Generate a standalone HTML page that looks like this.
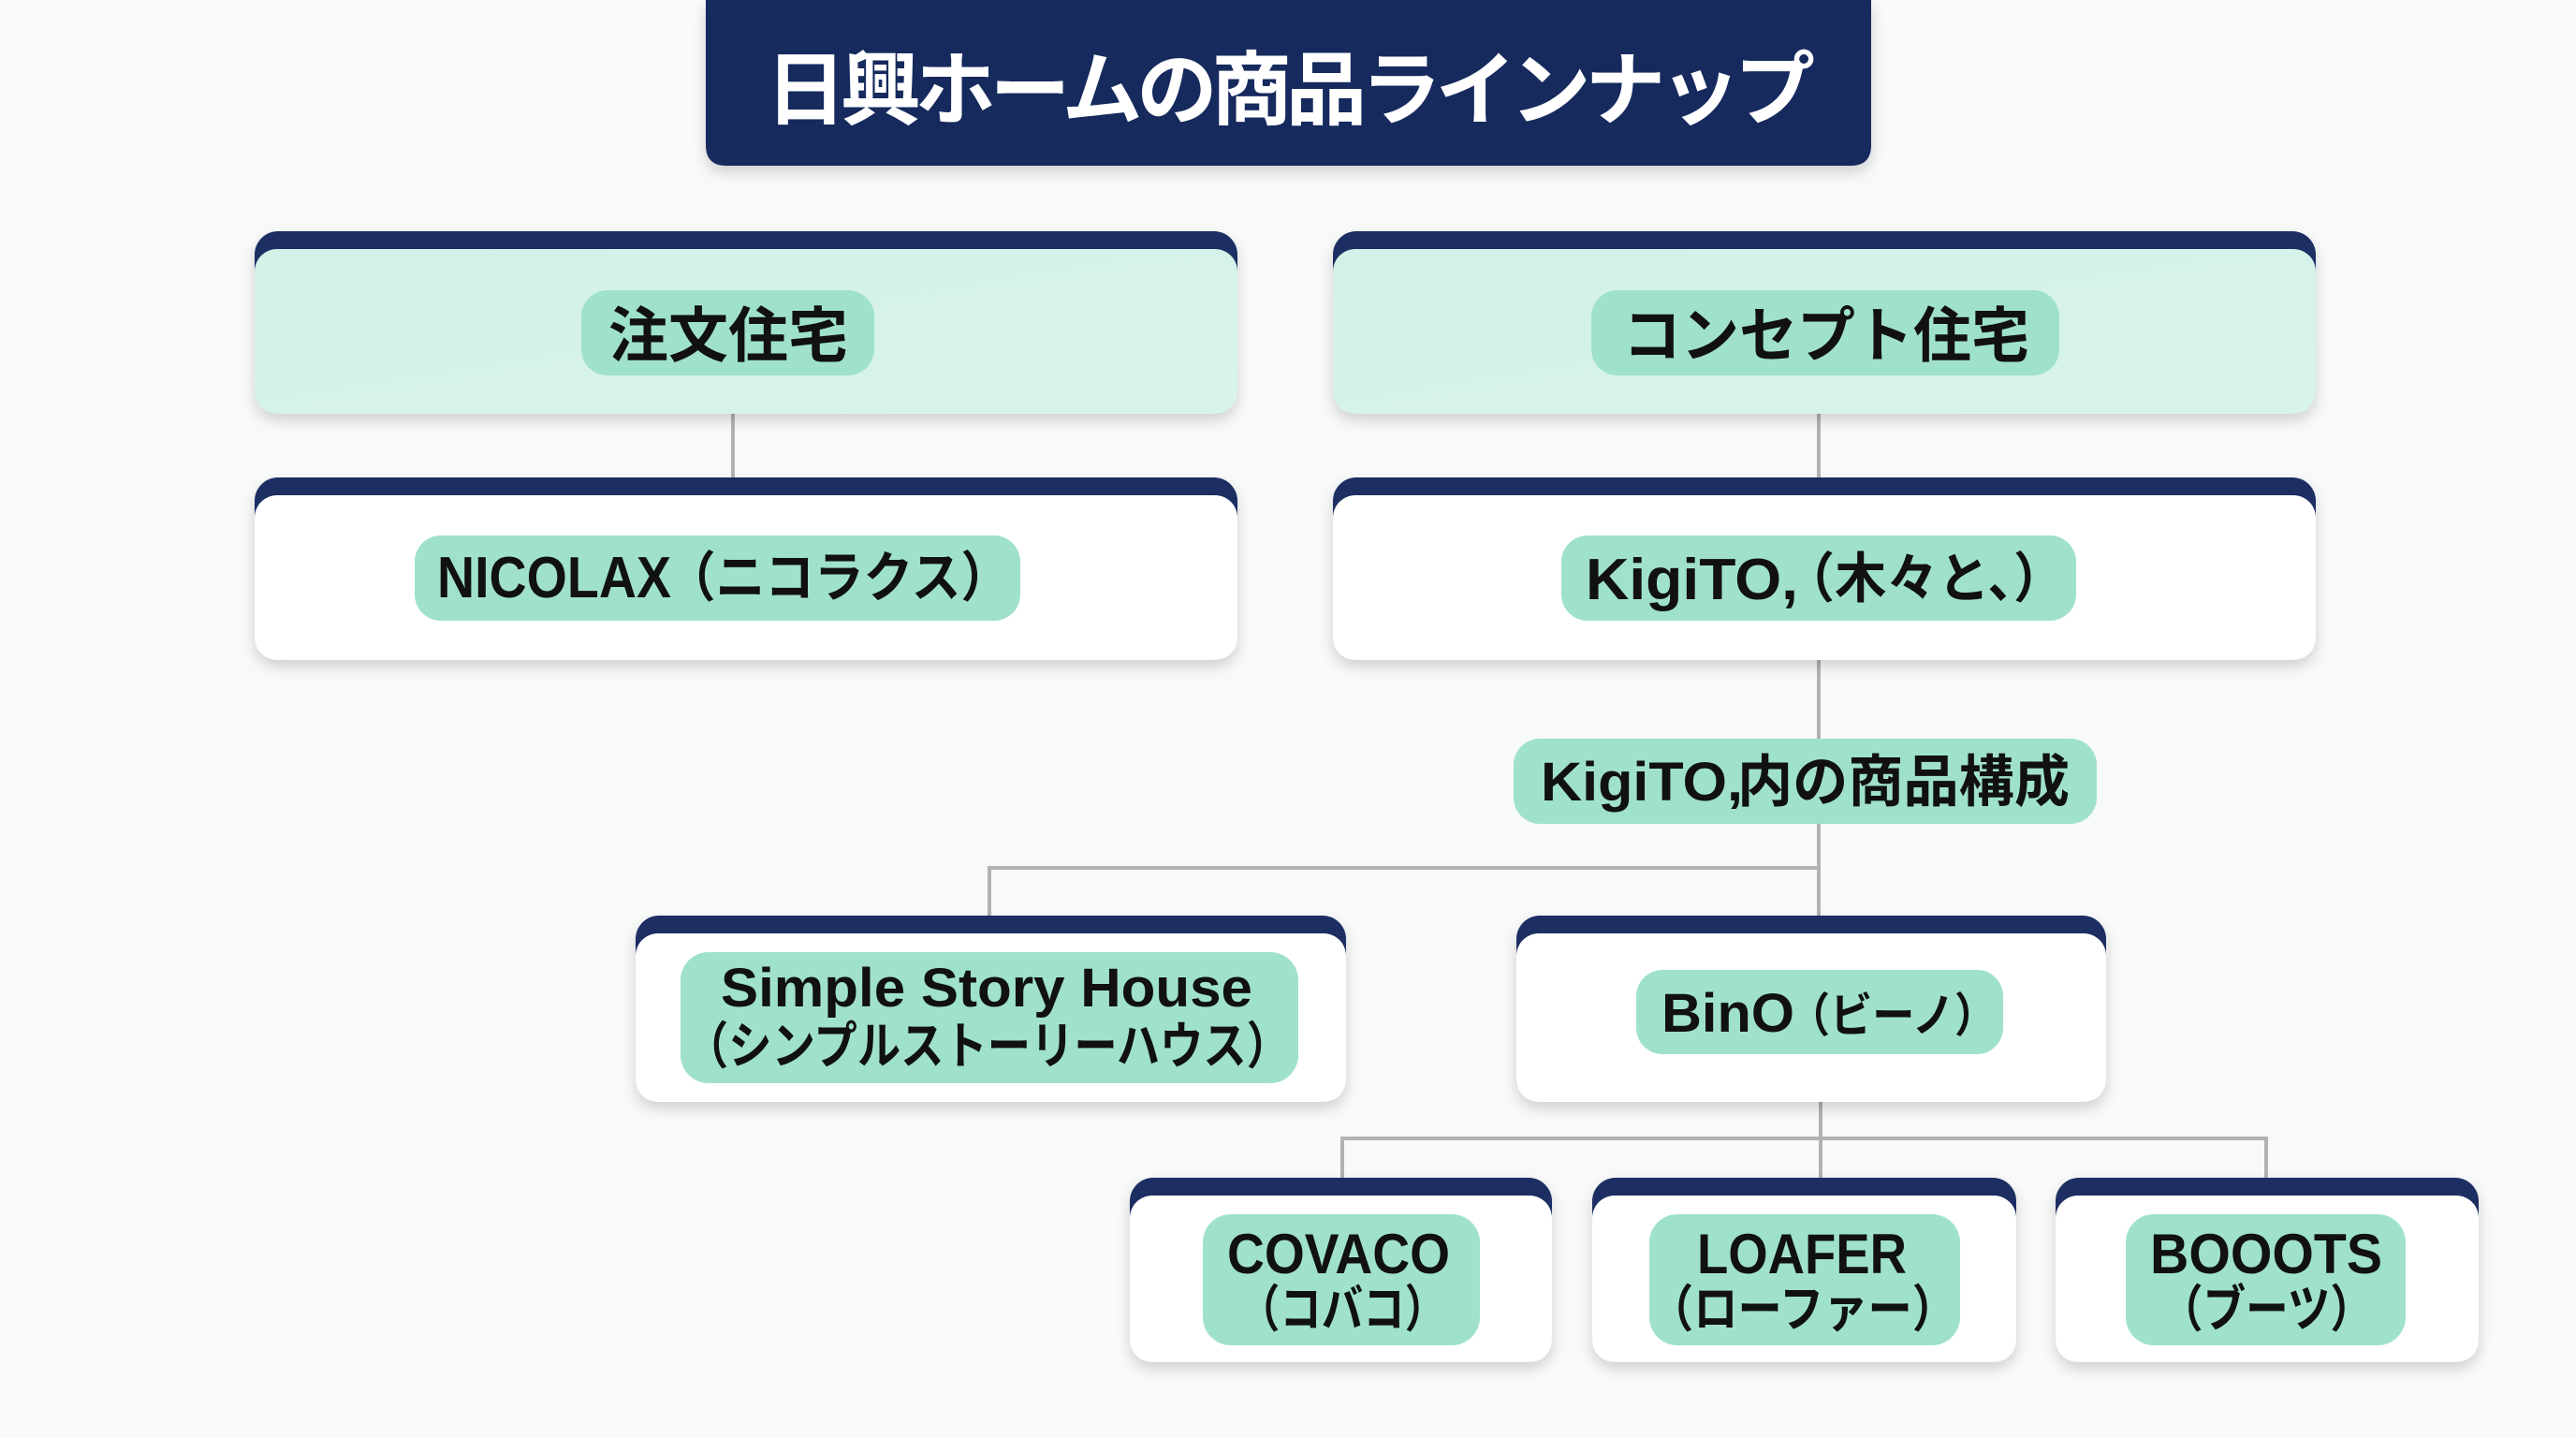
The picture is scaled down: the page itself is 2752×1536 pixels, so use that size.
<!DOCTYPE html>
<html lang="ja">
<head>
<meta charset="utf-8">
<style>
  html,body{margin:0;padding:0;background:#f8f9f9;}
  svg{display:block;}
  text{font-family:"Liberation Sans","Noto Sans CJK JP",sans-serif;font-weight:bold;fill:#111;}
  .jp{font-family:"Noto Sans CJK JP","Liberation Sans",sans-serif;}
</style>
</head>
<body>
<svg width="2752" height="1536" viewBox="0 0 2752 1536" xmlns="http://www.w3.org/2000/svg">
  <defs>
    <filter id="sh" x="-10%" y="-20%" width="120%" height="150%">
      <feDropShadow dx="0" dy="7" stdDeviation="7" flood-color="#000" flood-opacity="0.16"/>
    </filter>
    <linearGradient id="mint" x1="0" y1="0" x2="1" y2="1">
      <stop offset="0" stop-color="#d3f1e7"/>
      <stop offset="1" stop-color="#d8f3eb"/>
    </linearGradient>
  </defs>

  <rect x="0" y="0" width="2752" height="1536" fill="#f8f9f9"/>

  <!-- Title -->
  <path d="M754 0 H1999 V155 Q1999 177 1977 177 H776 Q754 177 754 155 Z" fill="#172a5d" filter="url(#sh)"/>
  <text class="jp" x="818" y="126" font-size="86" textLength="1121" lengthAdjust="spacing" fill="#fff" style="fill:#fff">日興ホームの商品ラインナップ</text>

  <!-- Connectors -->
  <g stroke="#b2b2b2" stroke-width="4" fill="none">
    <line x1="783" y1="440" x2="783" y2="512"/>
    <line x1="1943" y1="440" x2="1943" y2="512"/>
    <line x1="1943" y1="703" x2="1943" y2="980"/>
    <line x1="1055" y1="927" x2="1945" y2="927"/>
    <line x1="1057" y1="925" x2="1057" y2="980"/>
    <line x1="1945" y1="1175" x2="1945" y2="1260"/>
    <line x1="1432" y1="1216" x2="2423" y2="1216"/>
    <line x1="1434" y1="1214" x2="1434" y2="1260"/>
    <line x1="2421" y1="1214" x2="2421" y2="1260"/>
  </g>

  <!-- Card 注文住宅 -->
  <g filter="url(#sh)">
    <rect x="272" y="247" width="1050" height="195" rx="25" fill="#1a2d62"/>
    <rect x="272" y="266" width="1050" height="176" rx="24" fill="url(#mint)"/>
  </g>
  <rect x="621" y="310" width="313" height="91" rx="28" fill="#9fe1cd"/>
  <text class="jp" x="650" y="381" font-size="64" textLength="256" lengthAdjust="spacingAndGlyphs">注文住宅</text>

  <!-- Card コンセプト住宅 -->
  <g filter="url(#sh)">
    <rect x="1424" y="247" width="1050" height="195" rx="25" fill="#1a2d62"/>
    <rect x="1424" y="266" width="1050" height="176" rx="24" fill="url(#mint)"/>
  </g>
  <rect x="1700" y="310" width="500" height="91" rx="28" fill="#9fe1cd"/>
  <text class="jp" x="1734" y="381" font-size="64" textLength="434" lengthAdjust="spacingAndGlyphs">コンセプト住宅</text>

  <!-- Card NICOLAX -->
  <g filter="url(#sh)">
    <rect x="272" y="510" width="1050" height="195" rx="25" fill="#1a2d62"/>
    <rect x="272" y="529" width="1050" height="176" rx="24" fill="#ffffff"/>
  </g>
  <rect x="443" y="572" width="647" height="91" rx="28" fill="#9fe1cd"/>
  <text x="467" y="638" font-size="62" textLength="250" lengthAdjust="spacingAndGlyphs">NICOLAX</text>
  <text class="jp" x="712" y="637" font-size="58" textLength="367" lengthAdjust="spacingAndGlyphs">（ニコラクス）</text>

  <!-- Card KigiTO -->
  <g filter="url(#sh)">
    <rect x="1424" y="510" width="1050" height="195" rx="25" fill="#1a2d62"/>
    <rect x="1424" y="529" width="1050" height="176" rx="24" fill="#ffffff"/>
  </g>
  <rect x="1668" y="572" width="550" height="91" rx="28" fill="#9fe1cd"/>
  <text x="1694" y="640" font-size="62" textLength="227" lengthAdjust="spacingAndGlyphs">KigiTO,</text>
  <text class="jp" x="1905" y="638" font-size="58" textLength="301" lengthAdjust="spacingAndGlyphs">（木々と、）</text>

  <!-- KigiTO,内の商品構成 label -->
  <rect x="1617" y="789" width="623" height="91" rx="28" fill="#9fe1cd"/>
  <text x="1646" y="855" font-size="58" textLength="216" lengthAdjust="spacingAndGlyphs">KigiTO,</text>
  <text class="jp" x="1856" y="856" font-size="60" textLength="355" lengthAdjust="spacingAndGlyphs">内の商品構成</text>

  <!-- Card Simple Story House -->
  <g filter="url(#sh)">
    <rect x="679" y="978" width="759" height="199" rx="25" fill="#1a2d62"/>
    <rect x="679" y="997" width="759" height="180" rx="24" fill="#ffffff"/>
  </g>
  <rect x="727" y="1017" width="660" height="140" rx="30" fill="#9fe1cd"/>
  <text x="770" y="1075" font-size="58" textLength="568" lengthAdjust="spacingAndGlyphs">Simple Story House</text>
  <text class="jp" x="732" y="1136" font-size="54" textLength="646" lengthAdjust="spacingAndGlyphs">（シンプルストーリーハウス）</text>

  <!-- Card BinO -->
  <g filter="url(#sh)">
    <rect x="1620" y="978" width="630" height="199" rx="25" fill="#1a2d62"/>
    <rect x="1620" y="997" width="630" height="180" rx="24" fill="#ffffff"/>
  </g>
  <rect x="1748" y="1036" width="392" height="90" rx="28" fill="#9fe1cd"/>
  <text x="1775" y="1102" font-size="58" textLength="142" lengthAdjust="spacingAndGlyphs">BinO</text>
  <text class="jp" x="1910" y="1102" font-size="50" textLength="223" lengthAdjust="spacingAndGlyphs">（ビーノ）</text>

  <!-- Card COVACO -->
  <g filter="url(#sh)">
    <rect x="1207" y="1258" width="451" height="197" rx="25" fill="#1a2d62"/>
    <rect x="1207" y="1277" width="451" height="178" rx="24" fill="#ffffff"/>
  </g>
  <rect x="1285" y="1297" width="296" height="140" rx="30" fill="#9fe1cd"/>
  <text x="1311" y="1360" font-size="60" textLength="238" lengthAdjust="spacingAndGlyphs">COVACO</text>
  <text class="jp" x="1323" y="1417" font-size="54" textLength="222" lengthAdjust="spacingAndGlyphs">（コバコ）</text>

  <!-- Card LOAFER -->
  <g filter="url(#sh)">
    <rect x="1701" y="1258" width="453" height="197" rx="25" fill="#1a2d62"/>
    <rect x="1701" y="1277" width="453" height="178" rx="24" fill="#ffffff"/>
  </g>
  <rect x="1762" y="1297" width="332" height="140" rx="30" fill="#9fe1cd"/>
  <text x="1813" y="1360" font-size="60" textLength="224" lengthAdjust="spacingAndGlyphs">LOAFER</text>
  <text class="jp" x="1762" y="1417" font-size="54" textLength="328" lengthAdjust="spacingAndGlyphs">（ローファー）</text>

  <!-- Card BOOOTS -->
  <g filter="url(#sh)">
    <rect x="2196" y="1258" width="452" height="197" rx="25" fill="#1a2d62"/>
    <rect x="2196" y="1277" width="452" height="178" rx="24" fill="#ffffff"/>
  </g>
  <rect x="2271" y="1297" width="299" height="140" rx="30" fill="#9fe1cd"/>
  <text x="2297" y="1360" font-size="60" textLength="248" lengthAdjust="spacingAndGlyphs">BOOOTS</text>
  <text class="jp" x="2308" y="1417" font-size="54" textLength="227" lengthAdjust="spacingAndGlyphs">（ブーツ）</text>
</svg>
</body>
</html>
